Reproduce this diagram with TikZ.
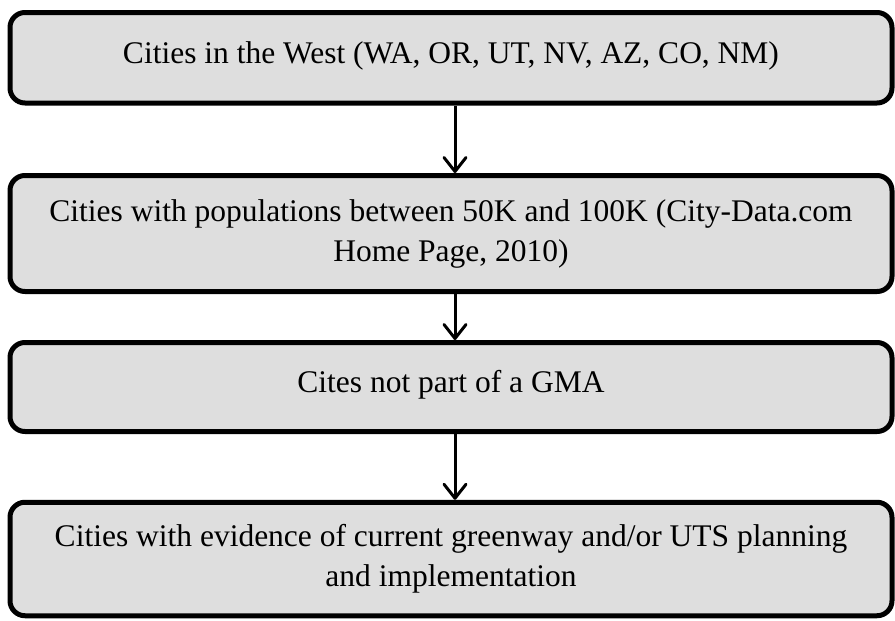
\documentclass[tikz,border=0pt]{standalone}
\usepackage{fontspec}
\setmainfont{Liberation Serif}
\usetikzlibrary{arrows.meta}
\definecolor{boxgray}{HTML}{DEDEDE}

\begin{document}
\begin{tikzpicture}[x=1pt, y=-1pt,
    stage/.style={draw, line width=5pt, rounded corners=15pt, fill=boxgray,
        minimum width=882pt, align=center, font=\fontsize{31.5}{40}\selectfont, inner sep=0pt},
    flow/.style={line width=3pt, -{Straight Barb[length=14pt, width=22pt, round]}}]
        \useasboundingbox (0,0) rectangle (895,621);

        \node[stage, minimum height=90.5pt] (west) at (451,57.75) {\raisebox{10pt}{Cities in the West (WA, OR, UT, NV, AZ, CO, NM)}};
        \node[stage, minimum height=116pt] (pop) at (451,233.5) {Cities with populations between 50K and 100K (City-Data.com\\Home Page, 2010)};
        \node[stage, minimum height=89pt] (gma) at (451,387) {\raisebox{11pt}{Cites not part of a GMA}};
        \node[stage, minimum height=113.5pt] (green) at (451,559) {Cities with evidence of current greenway and/or UTS planning\\and implementation};

        \draw[flow] ([xshift=4pt]west.south) -- ([xshift=4pt]pop.north);
        \draw[flow] ([xshift=4pt]pop.south) -- ([xshift=4pt]gma.north);
        \draw[flow] ([xshift=4pt]gma.south) -- ([xshift=4pt]green.north);
    \end{tikzpicture}
\end{document}
